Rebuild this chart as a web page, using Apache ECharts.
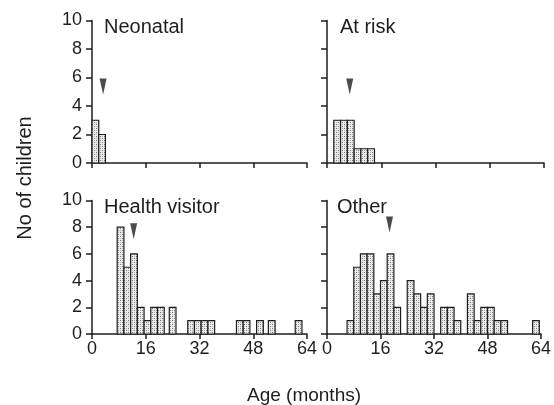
<!DOCTYPE html>
<html>
<head>
<meta charset="utf-8">
<script src="https://cdn.jsdelivr.net/npm/echarts@6/dist/echarts.min.js"></script>
<style>
  html, body { margin: 0; padding: 0; background: #fff; }
  #chart { width: 554px; height: 405px; }
</style>
</head>
<body>
<div id="chart"></div>
<script>
// bins are 2 months wide, values are the bin start (months) and no of children
var binWidth = 2;

var neonatalStart = [0, 2];
var neonatalCount = [3, 2];

var atRiskStart = [2, 4, 6, 8, 10, 12];
var atRiskCount = [3, 3, 3, 1, 1, 1];

var healthStart = [7.5, 9.5, 11.5, 13.5, 15.5, 17.5, 19.5, 23, 28.5, 30.5, 32.5, 34.5, 43, 45, 49, 52.5, 60.5];
var healthCount = [8, 5, 6, 2, 1, 2, 2, 2, 1, 1, 1, 1, 1, 1, 1, 1, 1];

var otherStart = [6, 8, 10, 12, 14, 16, 18, 20, 24, 26, 28, 30, 34, 36, 38, 42, 44, 46, 48, 50, 52, 61.5];
var otherCount = [1, 5, 6, 6, 3, 4, 6, 2, 4, 3, 2, 3, 2, 2, 1, 3, 1, 2, 2, 1, 1, 1];

// median arrows: [age, y of the arrow tip]
var medianArrows = [[3.3, 4.8], [6.7, 4.8], [12.4, 7.1], [18.7, 7.6]];

var panelNames = ['Neonatal', 'At risk', 'Health visitor', 'Other'];
var xTicks = [0, 64, 16];   // min, max, interval
var yTicks = [0, 10, 2];

var ink = '#1e1e1e';
var fontFam = 'Liberation Sans, Arial, sans-serif';

// stipple fill like the printed bars
function makeStipple() {
  var c = document.createElement('canvas');
  c.width = 4; c.height = 4;
  var ctx = c.getContext('2d');
  ctx.fillStyle = '#ececec';
  ctx.fillRect(0, 0, 4, 4);
  ctx.fillStyle = '#7a7a7a';
  ctx.fillRect(0, 0, 1, 1);
  ctx.fillRect(2, 2, 1, 1);
  ctx.fillStyle = '#b5b5b5';
  ctx.fillRect(2, 0, 1, 1);
  ctx.fillRect(0, 2, 1, 1);
  return c;
}
var stipple = { image: makeStipple(), repeat: 'repeat' };

function renderBar(params, api) {
  var start = api.value(0);
  var count = api.value(1);
  var p0 = api.coord([start, 0]);
  var p1 = api.coord([start + binWidth, count]);
  return {
    type: 'rect',
    shape: { x: p0[0], y: p1[1], width: p1[0] - p0[0], height: p0[1] - p1[1] },
    style: { fill: stipple, stroke: ink, lineWidth: 1.2 }
  };
}

function pairs(starts, counts) {
  return starts.map(function (s, i) { return [s, counts[i]]; });
}

var grids = [
  { left: 92, top: 20.5, width: 215, height: 142.5 },
  { left: 327, top: 20.5, width: 217, height: 142.5 },
  { left: 92, top: 200.5, width: 215, height: 133.5 },
  { left: 327, top: 200.5, width: 217, height: 133.5 }
];

var xAxes = grids.map(function (g, i) {
  return {
    gridIndex: i, type: 'value',
    min: xTicks[0], max: xTicks[1], interval: xTicks[2],
    axisLine: { show: true, lineStyle: { color: ink, width: 1.5 } },
    axisTick: { show: true, inside: false, length: 5, lineStyle: { color: ink, width: 1.5 } },
    axisLabel: { show: i >= 2, color: ink, fontSize: 18, fontFamily: fontFam, margin: 6 },
    splitLine: { show: false }
  };
});

var yAxes = grids.map(function (g, i) {
  return {
    gridIndex: i, type: 'value',
    min: yTicks[0], max: yTicks[1], interval: yTicks[2],
    axisLine: { show: true, lineStyle: { color: ink, width: 1.5 } },
    axisTick: { show: true, inside: false, length: 6, lineStyle: { color: ink, width: 1.5 } },
    axisLabel: { show: i % 2 === 0, color: ink, fontSize: 18, fontFamily: fontFam, margin: 10 },
    splitLine: { show: false }
  };
});

var barData = [
  pairs(neonatalStart, neonatalCount),
  pairs(atRiskStart, atRiskCount),
  pairs(healthStart, healthCount),
  pairs(otherStart, otherCount)
];

var series = [];
barData.forEach(function (d, i) {
  series.push({
    type: 'custom', xAxisIndex: i, yAxisIndex: i,
    renderItem: renderBar, encode: { x: 0, y: 1 },
    data: d, silent: true
  });
  series.push({
    type: 'scatter', xAxisIndex: i, yAxisIndex: i,
    symbol: 'path://M0,0 L7,0 L3.5,16 Z', symbolSize: [7, 16],
    symbolOffset: [0, '-50%'],
    itemStyle: { color: ink },
    data: [medianArrows[i]], silent: true
  });
});

var titleLeft = [104, 340, 104, 337];
var titleTop = [17, 17, 197, 197];
var titles = panelNames.map(function (name, i) {
  return {
    text: name, left: titleLeft[i], top: titleTop[i], padding: 0,
    textStyle: { color: ink, fontSize: 20, fontWeight: 'normal', fontFamily: fontFam }
  };
});

var chart = echarts.init(document.getElementById('chart'), null, { renderer: 'canvas' });
chart.setOption({
  backgroundColor: '#fff',
  animation: false,
  title: titles,
  grid: grids,
  xAxis: xAxes,
  yAxis: yAxes,
  series: series,
  graphic: [
    {
      type: 'text', x: 25, y: 178, rotation: Math.PI / 2,
      style: { text: 'No of children', fill: ink, fontSize: 20, fontFamily: fontFam, align: 'center', verticalAlign: 'middle' }
    },
    {
      type: 'text', x: 304, y: 396,
      style: { text: 'Age (months)', fill: ink, fontSize: 19, fontFamily: fontFam, align: 'center', verticalAlign: 'middle' }
    }
  ]
});
</script>
</body>
</html>
